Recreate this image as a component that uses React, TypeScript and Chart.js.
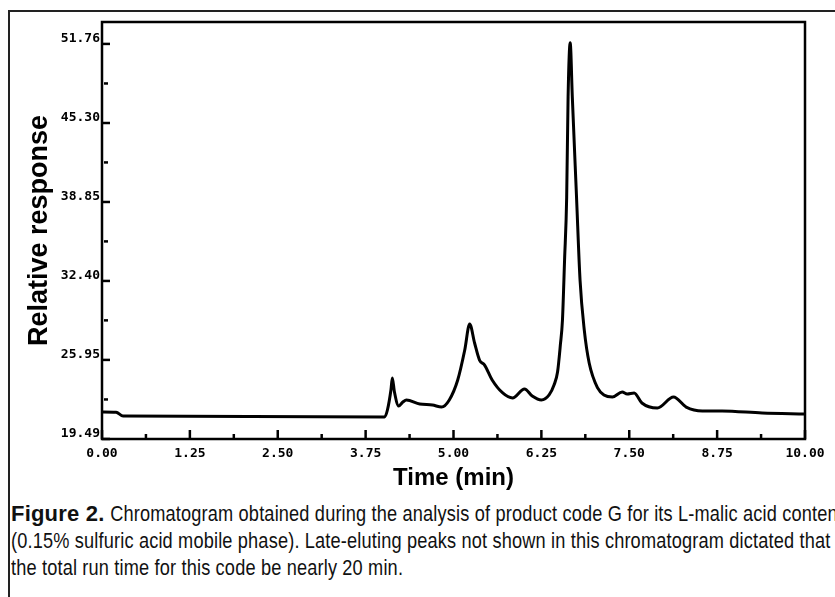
import React, { useEffect, useRef } from 'react';
import { Chart, registerables } from 'chart.js';

Chart.register(...registerables);

// ---- data ----
const TIMES = [
  0.0, 0.2, 0.3, 2.13, 4.02, 4.06, 4.11, 4.13, 4.16, 4.22,
  4.28, 4.33, 4.52, 4.7, 4.83, 4.94, 5.06, 5.16, 5.23, 5.3,
  5.37, 5.44, 5.55, 5.7, 5.84, 6.01, 6.12, 6.25, 6.36, 6.43,
  6.48, 6.52, 6.55, 6.58, 6.61, 6.63, 6.66, 6.69, 6.75, 6.8,
  6.86, 6.93, 7.05, 7.14, 7.26, 7.4, 7.47, 7.57, 7.68, 7.9,
  8.13, 8.31, 8.54, 8.82, 9.39, 10.0,
];
const RESPONSES = [
  21.7, 21.68, 21.37, 21.33, 21.29, 21.86, 23.49, 24.47, 23.33, 22.19,
  22.51, 22.68, 22.35, 22.27, 22.1, 22.68, 24.31, 26.76, 28.89, 27.33,
  25.94, 25.54, 24.31, 23.25, 22.84, 23.58, 23.0, 22.68, 23.09, 23.9,
  24.96, 27.17, 29.21, 34.12, 39.26, 47.43, 51.85, 47.43, 39.26, 32.48,
  28.4, 25.7, 23.66, 23.09, 22.92, 23.33, 23.17, 23.25, 22.43, 22.02,
  22.92, 22.1, 21.78, 21.78, 21.61, 21.53,
];

const X_MAJOR_TICKS = [0, 1.25, 2.5, 3.75, 5, 6.25, 7.5, 8.75, 10];
const X_MINOR_TICKS = [0.625, 1.875, 3.125, 4.375, 5.625, 6.875, 8.125, 9.375];
const Y_MAJOR_TICKS = [19.49, 25.95, 32.4, 38.85, 45.3, 51.76];
const Y_TICK_LABELS = ['19.49', '25.95', '32.40', '38.85', '45.30', '51.76'];
const Y_MINOR_TICKS = [22.72, 29.18, 35.63, 42.08, 48.53];
const X_MIN = 0;
const X_MAX = 10;
const Y_MIN = 19.49;
const Y_MAX = 53.55;

const X_TITLE = 'Time (min)';
const Y_TITLE = 'Relative response';
const CAPTION_BOLD = 'Figure 2.';
const CAPTION_LINES = [
  '\u00a0Chromatogram obtained during the analysis of product code G for its L-malic acid content',
  '(0.15% sulfuric acid mobile phase). Late-eluting peaks not shown in this chromatogram dictated that',
  'the total run time for this code be nearly 20 min.',
];

const TICK_FONT = { family: '"DejaVu Sans Mono", monospace', size: 13, weight: 'bold' as const };

const frameAndTicks = {
  id: 'frameAndTicks',
  afterDraw(chart: any) {
    const { ctx, chartArea: a, scales } = chart;
    const x = scales.x;
    const y = scales.y;
    ctx.save();
    ctx.strokeStyle = '#000';
    ctx.lineCap = 'butt';
    const seg = (x1: number, y1: number, x2: number, y2: number, w: number) => {
      ctx.lineWidth = w;
      ctx.beginPath();
      ctx.moveTo(x1, y1);
      ctx.lineTo(x2, y2);
      ctx.stroke();
    };
    X_MAJOR_TICKS.forEach((v) => {
      const px = x.getPixelForValue(v);
      seg(px, a.bottom, px, a.bottom - 9, 2.5);
    });
    X_MINOR_TICKS.forEach((v) => {
      const px = x.getPixelForValue(v);
      seg(px, a.bottom, px, a.bottom - 5, 2.5);
    });
    Y_MAJOR_TICKS.forEach((v) => {
      const py = y.getPixelForValue(v);
      seg(a.left, py, a.left + 8, py, 2.5);
    });
    Y_MINOR_TICKS.forEach((v) => {
      const py = y.getPixelForValue(v);
      seg(a.left + 2, py, a.left + 6, py, 2.5);
    });
    ctx.lineWidth = 2.5;
    ctx.strokeRect(a.left, a.top, a.right - a.left, a.bottom - a.top);
    ctx.restore();
  },
};

function ChromatogramChart() {
  const canvasRef = useRef<HTMLCanvasElement | null>(null);

  useEffect(() => {
    const canvas = canvasRef.current;
    if (!canvas) return;
    const points = TIMES.map((t, i) => ({ x: t, y: RESPONSES[i] }));
    const chart = new Chart(canvas, {
      type: 'line',
      data: {
        datasets: [
          {
            data: points,
            borderColor: '#000',
            borderWidth: 3,
            pointRadius: 0,
            fill: false,
            cubicInterpolationMode: 'monotone',
          },
        ],
      },
      options: {
        responsive: false,
        animation: false,
        events: [],
        layout: { padding: { top: 22, right: 30, bottom: 0, left: 0 } },
        plugins: { legend: { display: false }, tooltip: { enabled: false }, title: { display: false } },
        scales: {
          x: {
            type: 'linear',
            min: X_MIN,
            max: X_MAX,
            afterBuildTicks: (scale: any) => {
              scale.ticks = X_MAJOR_TICKS.map((v) => ({ value: v }));
            },
            afterFit: (scale: any) => {
              scale.height = 61;
            },
            grid: { display: false, drawTicks: false },
            border: { display: false },
            ticks: {
              color: '#000',
              font: TICK_FONT,
              padding: 7,
              maxRotation: 0,
              autoSkip: false,
              labelOffset: (ctx: any) => (ctx.index === 0 ? 7 : 0),
              callback: (v: any) => Number(v).toFixed(2),
            },
            title: {
              display: true,
              text: X_TITLE,
              color: '#000',
              font: { family: '"Liberation Sans", Arial, sans-serif', size: 24, weight: 'bold' },
              padding: { top: 0, bottom: 7 },
            },
          },
          y: {
            type: 'linear',
            min: Y_MIN,
            max: Y_MAX,
            afterBuildTicks: (scale: any) => {
              scale.ticks = Y_MAJOR_TICKS.map((v) => ({ value: v }));
            },
            afterFit: (scale: any) => {
              scale.width = 102;
            },
            grid: { display: false, drawTicks: false },
            border: { display: false },
            ticks: {
              color: '#000',
              font: TICK_FONT,
              padding: 2,
              labelOffset: -5,
              autoSkip: false,
              callback: (v: any) => {
                const i = Y_MAJOR_TICKS.indexOf(Number(v));
                return i >= 0 ? Y_TICK_LABELS[i] : '';
              },
            },
            title: {
              display: true,
              text: Y_TITLE,
              color: '#000',
              font: { family: '"Liberation Sans", Arial, sans-serif', size: 27, weight: 'bold' },
              padding: { top: 23, bottom: 0 },
            },
          },
        },
      },
      plugins: [frameAndTicks],
    } as any);
    return () => chart.destroy();
  }, []);

  return (
    <canvas
      ref={canvasRef}
      width={835}
      height={500}
      style={{ position: 'absolute', left: 0, top: 0, width: 835, height: 500, display: 'block' }}
    />
  );
}

const condensed: React.CSSProperties = {
  display: 'inline-block',
  transform: 'scaleX(0.826)',
  transformOrigin: '0 0',
};

export default function App() {
  return (
    <div
      style={{
        position: 'fixed',
        left: 0,
        top: 0,
        width: 835,
        height: 597,
        overflow: 'hidden',
        background: '#fff',
      }}
    >
      <div
        style={{
          position: 'absolute',
          left: 8,
          top: 10,
          width: 900,
          height: 700,
          borderLeft: '2px solid #222',
          borderTop: '2px solid #222',
        }}
      />
      <ChromatogramChart />
      <div
        style={{
          position: 'absolute',
          left: 11,
          top: 500,
          width: 2000,
          fontFamily: '"Liberation Sans", Arial, sans-serif',
          fontSize: 22,
          lineHeight: '27px',
          color: '#111',
          whiteSpace: 'nowrap',
          letterSpacing: 0.2,
        }}
      >
        <div>
          <b>{CAPTION_BOLD}</b>
          <span style={condensed}>{CAPTION_LINES[0]}</span>
        </div>
        <div>
          <span style={condensed}>{CAPTION_LINES[1]}</span>
        </div>
        <div>
          <span style={condensed}>{CAPTION_LINES[2]}</span>
        </div>
      </div>
    </div>
  );
}
